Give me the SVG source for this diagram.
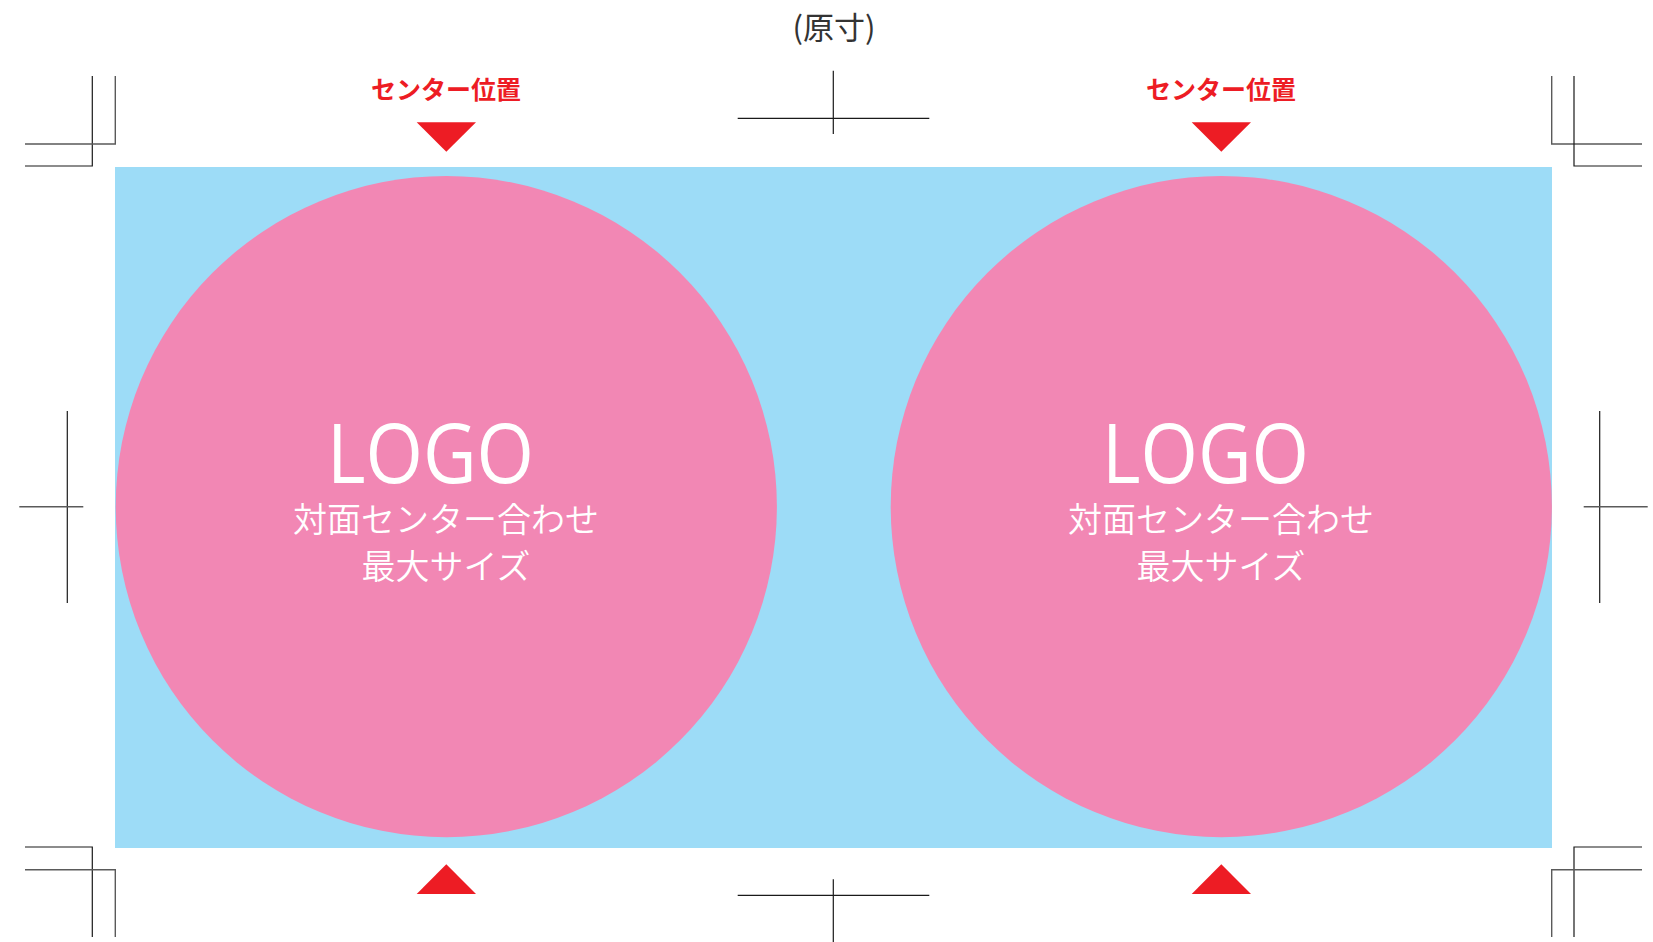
<svg xmlns="http://www.w3.org/2000/svg" width="1653" height="942" viewBox="0 0 1653 942">
<defs>
<style>
.crop{stroke:#1a1a1a;stroke-width:1.2;fill:none}
.crop2{stroke:#5a5a5a;stroke-width:1.4;fill:none}
.tri{fill:#ED1C24}
.lbl{font-family:"Noto Sans CJK JP",sans-serif;font-weight:700;font-size:25px;fill:#ED1C24;text-anchor:middle}
.logo{font-family:"Open Sans","Noto Sans",sans-serif;font-weight:400;font-size:82px;fill:#FFFFFF}
.jp{font-family:"Noto Sans CJK JP",sans-serif;font-weight:350;font-size:34px;fill:#FFFFFF;text-anchor:middle}
.title{font-family:"Noto Sans CJK JP",sans-serif;font-weight:400;font-size:31px;fill:#333333;text-anchor:middle}
</style>
</defs>
<rect width="1653" height="942" fill="#FFFFFF"/>
<text class="title" x="834" y="39">(原寸)</text>
<g id="bleed">
<rect x="115" y="167" width="1437" height="681" fill="#9DDCF7"/>
</g>
<g id="connectors">
<path class="crop" d="M92.3 76 V166 H25"/>
<path class="crop2" d="M115.3 76 V144 H25"/>
<path class="crop2" d="M1551.7 76 V144 H1642"/>
<path class="crop" d="M1574 76 V166 H1642"/>
<path class="crop" d="M25 847 H92.3 V937"/>
<path class="crop2" d="M25 869.7 H115.3 V937"/>
<path class="crop" d="M1642 847 H1574 V937"/>
<path class="crop2" d="M1642 869.7 H1551.7 V937"/>
<path class="crop" d="M833.3 70.7 V134 M737.7 118.3 H929.3"/>
<path class="crop" d="M833.3 879.3 V942 M737.7 895.3 H929.3"/>
<path class="crop" d="M67.3 411 V603"/>
<path class="crop2" d="M19.3 506.7 H83.3"/>
<path class="crop" d="M1599.7 411 V603"/>
<path class="crop2" d="M1583.7 506.7 H1647.7"/>
</g>
<g id="left-logo">
<circle cx="446.3" cy="506.6" r="330.6" fill="#F287B4"/>
<text class="logo" x="327" y="483.3" textLength="207" lengthAdjust="spacingAndGlyphs">LOGO</text>
<text class="jp" x="446" y="532">対面センター合わせ</text>
<text class="jp" x="446" y="579">最大サイズ</text>
</g>
<g id="right-logo">
<circle cx="1221.3" cy="506.6" r="330.6" fill="#F287B4"/>
<text class="logo" x="1102" y="483.3" textLength="207" lengthAdjust="spacingAndGlyphs">LOGO</text>
<text class="jp" x="1221" y="532">対面センター合わせ</text>
<text class="jp" x="1221" y="579">最大サイズ</text>
</g>
<g id="left-marker">
<text class="lbl" x="446" y="99">センター位置</text>
<polygon class="tri" points="416.7,122.3 476,122.3 446.3,151.7"/>
<polygon class="tri" points="416.7,894 476,894 446.3,864.3"/>
</g>
<g id="right-marker">
<text class="lbl" x="1221" y="99">センター位置</text>
<polygon class="tri" points="1191.7,122.3 1251,122.3 1221.3,151.7"/>
<polygon class="tri" points="1191.7,894 1251,894 1221.3,864.3"/>
</g>
</svg>
